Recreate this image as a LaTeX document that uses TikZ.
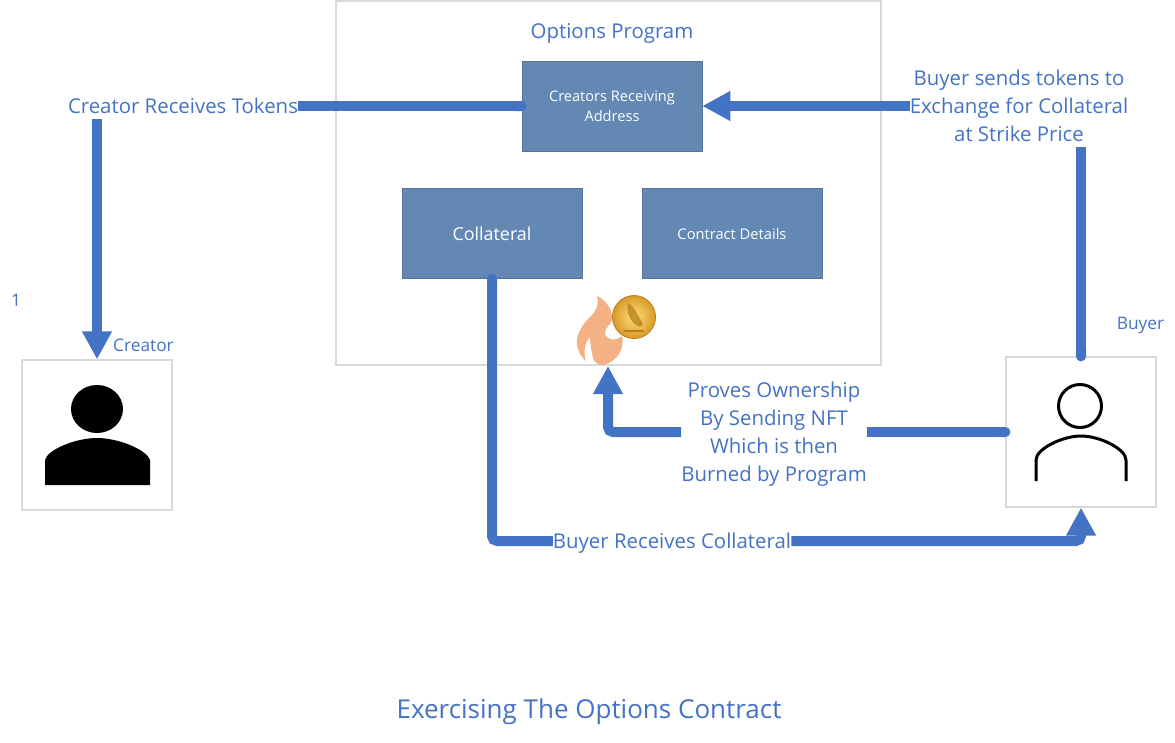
\documentclass[tikz,border=0pt]{standalone}
\usepackage{xcolor}
\usepackage{fontspec}
\setmainfont{Open Sans}
\usetikzlibrary{arrows.meta, positioning, calc}
\definecolor{flowblue}{HTML}{4472C4}
\definecolor{boxblue}{HTML}{6388B4}
\definecolor{framegray}{HTML}{D9D9D9}
\definecolor{flameorange}{HTML}{F4B183}
\definecolor{coinlight}{HTML}{FCE27A}
\definecolor{coindark}{HTML}{D89A28}
\definecolor{coinmark}{HTML}{B87C1C}
\tikzset{
  frame/.style={draw=framegray, line width=1.2pt, fill=white, inner sep=0pt},
  bluebox/.style={draw=boxblue!85!black, line width=0.6pt, fill=boxblue, text=white, align=center, minimum width=180pt, minimum height=90pt, inner sep=0pt},
  flowlabel/.style={text=flowblue, align=center, inner xsep=0pt, inner ysep=5pt, font=\fontsize{20.4}{28}\selectfont},
  smalllabel/.style={text=flowblue, inner sep=0pt, font=\fontsize{17.3}{20}\selectfont},
  flow/.style={draw=flowblue, line width=10pt, rounded corners=5pt},
  flowtip/.style={flow, -{Triangle[length=28pt, width=28pt]}},
  flowround/.style={flow, {Round Cap[]}-, shorten <=-5pt}
}
\begin{document}
\begin{tikzpicture}[x=1pt, y=-1pt]
\useasboundingbox (0,0) rectangle (1175,742);
% Frames
\node[frame, minimum width=545pt, minimum height=364pt] (program) at (608.5,183) {};
\node[frame, minimum width=150pt, minimum height=150pt] (creator) at (97,435) {};
\node[frame, minimum width=150pt, minimum height=150pt] (buyer) at (1081,432) {};
% Blue boxes
\node[bluebox, font=\fontsize{14.6}{20}\selectfont] (receiving) at (612,106) {Creators Receiving\\Address};
\node[bluebox, font=\fontsize{17.9}{20}\selectfont] (collateral) at (492,233.5) {Collateral};
\node[bluebox, font=\fontsize{14.7}{20}\selectfont] (details) at (732,233.5) {Contract Details};
% Labels
\node[flowlabel] (title) at (612,33.5) {Options Program};
\node[flowlabel] (tokens) at (183,106) {Creator Receives Tokens};
\node[flowlabel] (sends) at (1019,105.5) {Buyer sends tokens to\\Exchange for Collateral\\at Strike Price};
\node[flowlabel] (proves) at (774,434) {Proves Ownership\\By Sending NFT\\Which is then\\Burned by Program};
\node[flowlabel] (receives) at (672,543) {Buyer Receives Collateral};
\node[smalllabel] (one) at (16,300) {1};
\node[smalllabel] (creatorname) at (143.5,345) {Creator};
\node[smalllabel] (buyername) at (1140.5,325.5) {Buyer};
\node[text=flowblue, inner sep=0pt, font=\fontsize{26}{30}\selectfont] (caption) at (589,712) {Exercising The Options Contract};
\coordinate (bottomline) at (0,541);
% Person, filled
\fill[black] (97,409) ellipse (26 and 24);
\fill[black] (45,485) -- (45,460) .. controls (47,450) and (75,438) .. (97,438)
  .. controls (119,438) and (147,450) .. (150,460) -- (150,485) -- cycle;
% Person, outline
\draw[black, line width=3pt] (1080,406) circle (21.5);
\draw[black, line width=3pt] (1036,481) -- (1036,460) .. controls (1036,449) and (1062,436) .. (1081,436)
  .. controls (1100,436) and (1126,449) .. (1126,460) -- (1126,481);
% Flame and coin
\fill[flameorange] (597,296) .. controls (606,300) and (613,310) .. (612,320)
  .. controls (611,325) and (605,327) .. (605,333) .. controls (606,340) and (615,342) .. (622,336)
  .. controls (625,347) and (618,362) .. (603,365) .. controls (597,366) and (592,360) .. (592,353)
  .. controls (591,348) and (590,342) .. (590,337) .. controls (585,342) and (583,352) .. (586,361)
  .. controls (579,355) and (576,346) .. (577,340) .. controls (578,330) and (585,322) .. (592,315)
  .. controls (597,310) and (599,303) .. (597,296) -- cycle;
\shade[inner color=coinlight, outer color=coindark] (634,317) circle (21.5);
\draw[coinmark, line width=0.8pt] (634,317) circle (21.5);
\fill[coinmark, opacity=0.75] (628,303) .. controls (634,306) and (637,314) .. (642,322)
  .. controls (644,326) and (641,328) .. (636,325) .. controls (630,321) and (626,312) .. (628,303) -- cycle;
\draw[coinmark, line width=1.2pt] (624,331) -- (644,331);
% Connectors
\draw[flowround] (receiving.west) -- (tokens.east |- receiving.west);
\draw[flowtip] (tokens.south -| creator.north) -- (creator.north);
\draw[flowtip] (sends.west |- receiving.east) -- (receiving.east);
\draw[flowround] (buyer.north) -- (buyer.north |- sends.south);
\draw[flowround] (buyer.west) -- (proves.east |- buyer.west);
\coordinate (burn) at (608,366);
\draw[flowtip] (proves.west |- buyer.west) -| (burn);
\draw[flowround] (collateral.south) |- (receives.west |- bottomline);
\draw[flowtip] (receives.east |- bottomline) -| (buyer.south);
\end{tikzpicture}
\end{document}
